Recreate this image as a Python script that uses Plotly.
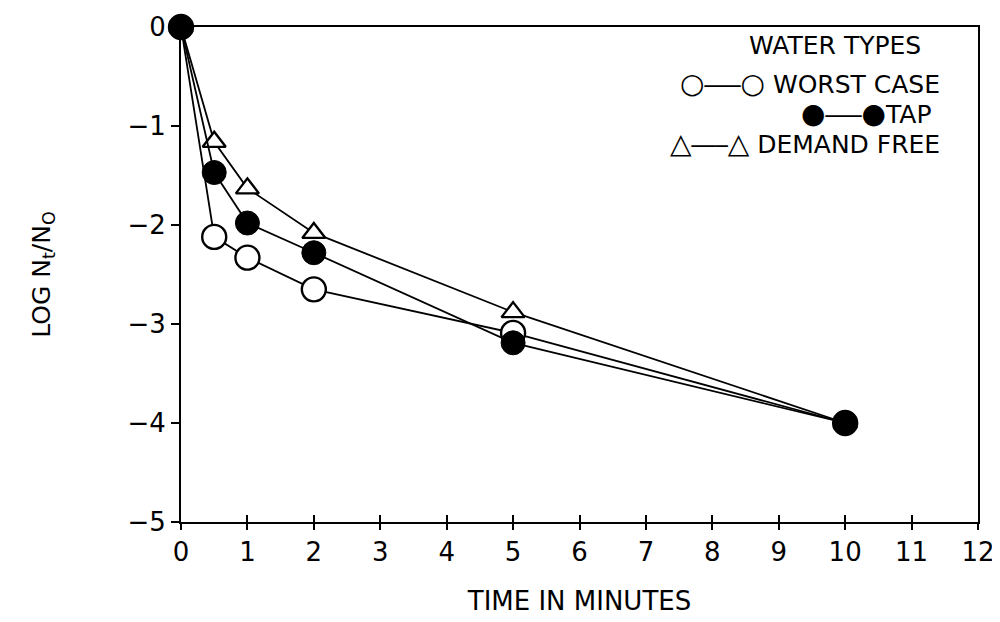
import plotly.graph_objects as go

time_min = [0, 0.5, 1, 2, 5, 10]
worst_case = [0, -2.12, -2.33, -2.65, -3.09, -4.0]
tap = [0, -1.47, -1.98, -2.28, -3.19, -4.0]
demand_free = [0, -1.16, -1.63, -2.08, -2.88, -4.0]

x_ticks = list(range(0, 13))
y_ticks = [0, -1, -2, -3, -4, -5]

legend_title = "WATER TYPES"
legend_syms = [("○", "○", " WORST CASE"), ("●", "●", "TAP"), ("△", "△", " DEMAND FREE")]

FONT = "DejaVu Sans, sans-serif"

fig = go.Figure()
line = dict(color="black", width=1.8)
fig.add_trace(go.Scatter(x=time_min, y=worst_case, mode="lines+markers", line=line,
                         cliponaxis=False,
                         marker=dict(symbol="circle", size=24, color="white",
                                     line=dict(color="black", width=2.4)),
                         name="WORST CASE"))
fig.add_trace(go.Scatter(x=time_min, y=demand_free, mode="lines+markers", line=line,
                         cliponaxis=False,
                         marker=dict(symbol="triangle-up", size=20, color="white",
                                     line=dict(color="black", width=2.4)),
                         name="DEMAND FREE"))
fig.add_trace(go.Scatter(x=time_min, y=tap, mode="lines+markers", line=line,
                         cliponaxis=False,
                         marker=dict(symbol="circle", size=24, color="black",
                                     line=dict(color="black", width=1)),
                         name="TAP"))

fig.update_layout(
    width=1000, height=622,
    margin=dict(l=173, r=30, t=19, b=108),
    plot_bgcolor="white", paper_bgcolor="white",
    showlegend=False,
    font=dict(family=FONT, color="black", size=26),
    xaxis=dict(range=[0, 12], tickvals=x_ticks, ticks="outside", ticklen=6,
               tickwidth=2, tickcolor="black", showgrid=False, zeroline=False,
               showline=True, linecolor="black", linewidth=2, mirror=True,
               automargin=False, tickfont=dict(size=26),
               title=dict(text="TIME IN MINUTES", font=dict(size=26), standoff=26)),
    yaxis=dict(range=[-5, 0], tickvals=y_ticks, ticks="outside", ticklen=8,
               tickwidth=2, tickcolor="black", showgrid=False, zeroline=False,
               showline=True, linecolor="black", linewidth=2, mirror=True,
               automargin=False, tickfont=dict(size=26),
               title=dict(text="LOG N<sub>t</sub>/N<sub>O</sub>", font=dict(size=25),
                          standoff=70)),
    xaxis2=dict(range=[0, 12], tickvals=x_ticks, ticks="inside", ticklen=7,
                tickwidth=2, tickcolor="black", showticklabels=False,
                showgrid=False, zeroline=False, overlaying="x", side="bottom",
                automargin=False),
)
fig.add_trace(go.Scatter(x=[None], y=[None], xaxis="x2", showlegend=False))

fig.add_annotation(xref="paper", yref="paper", x=0.931, y=0.962, xanchor="right",
                   yanchor="middle", text=legend_title, showarrow=False,
                   font=dict(size=25))
ys = [0.885, 0.825, 0.765]
xs = [0.955, 0.945, 0.955]
for (s1, s2, lab), yy, xx in zip(legend_syms, ys, xs):
    txt = (f"<span style='font-size:28px'>{s1}</span>"
           f"<span style='font-size:20px'>───</span>"
           f"<span style='font-size:28px'>{s2}</span>{lab}")
    fig.add_annotation(xref="paper", yref="paper", x=xx, y=yy, xanchor="right",
                       yanchor="middle", text=txt, showarrow=False,
                       font=dict(size=25))

fig.write_html("out.html")
